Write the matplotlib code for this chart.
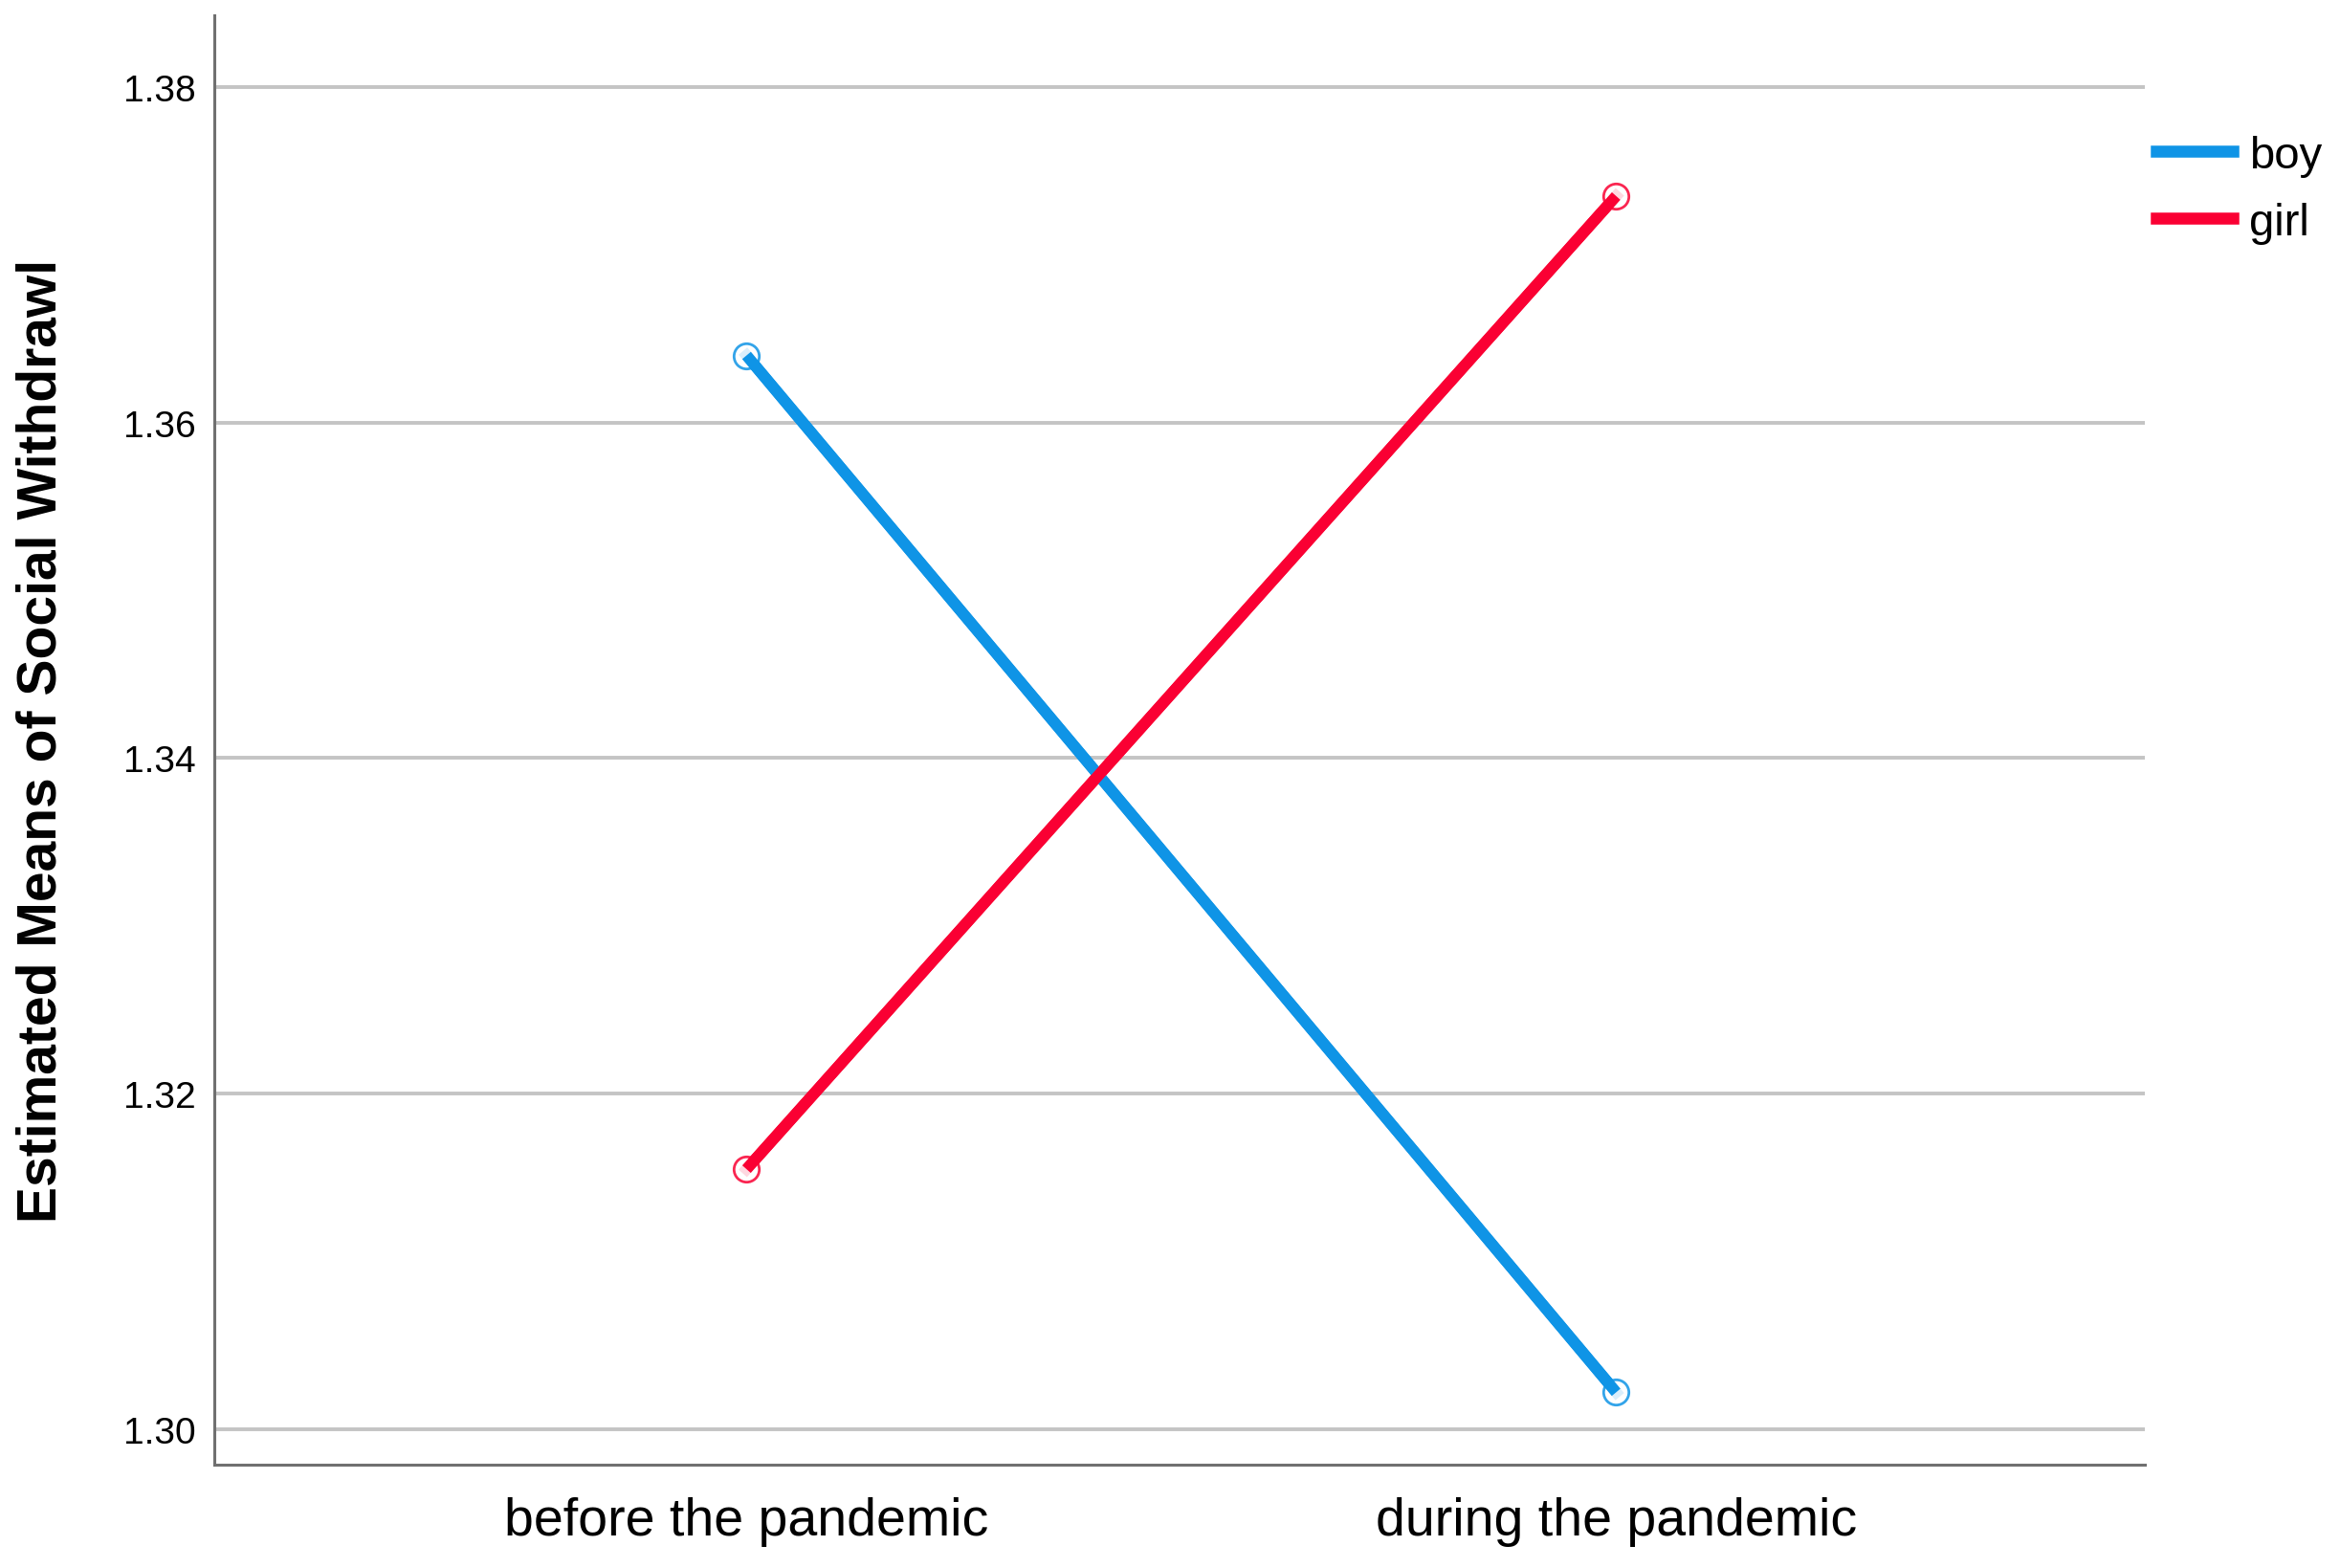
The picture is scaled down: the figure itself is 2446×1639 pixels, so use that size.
import matplotlib
matplotlib.use("Agg")
import matplotlib.pyplot as plt

plt.rcParams['font.family'] = ['Liberation Sans', 'DejaVu Sans']

# estimated marginal means
periods = ['before the pandemic', 'during the pandemic']
boy = [1.3640, 1.3022]
girl = [1.3155, 1.3735]
yticks = [1.30, 1.32, 1.34, 1.36, 1.38]

blue = '#0F94E6'
red = '#FA0033'

fig = plt.figure(figsize=(24.46, 16.4), dpi=100)
ax = fig.add_axes([0.0916, 0.0659, 0.825, 0.9237])

x = list(range(len(periods)))
ax.plot(x, boy, color=blue, lw=8.5, label='boy', zorder=3)
ax.plot(x, girl, color=red, lw=8.5, label='girl', zorder=3)
# open circle markers at the means
ax.plot(x, boy, 'o', ms=19, mfc='white', mec=blue, mew=2, alpha=0.85, zorder=4)
ax.plot(x, girl, 'o', ms=19, mfc='white', mec=red, mew=2, alpha=0.85, zorder=4)
ax.plot(x, boy, color=blue, lw=8.5, zorder=5, solid_capstyle='butt')
ax.plot(x, girl, color=red, lw=8.5, zorder=5, solid_capstyle='butt')

ax.set_xlim(-0.612, 1.608)
ax.set_ylim(1.29789, 1.38427)
ax.set_xticks(x)
ax.set_xticklabels(periods, fontsize=40)
ax.set_yticks(yticks)
ax.set_yticklabels(['%.2f' % v for v in yticks], fontsize=28)
ax.tick_params(axis='both', length=0)
ax.tick_params(axis='y', pad=14)
ax.tick_params(axis='x', pad=24)

ax.grid(axis='y', color='#C4C4C4', lw=2.8)
ax.set_axisbelow(True)
for s in ['top', 'right']:
    ax.spines[s].set_visible(False)
for s in ['left', 'bottom']:
    ax.spines[s].set_color('#707070')
    ax.spines[s].set_linewidth(2.2)

fig.text(44 / 2446, 0.5277, 'Estimated Means of Social Withdrawl', rotation=90,
         fontsize=41, fontweight='bold', ha='center', va='center')

leg = fig.legend(handles=ax.lines[:2], loc='upper left',
                 bbox_to_anchor=(2254 / 2446, 1 - 142 / 1640),
                 frameon=False, fontsize=34, handlelength=1.7,
                 handletextpad=0.36, labelspacing=0.55, borderpad=0,
                 borderaxespad=0)
for h in leg.legend_handles:
    h.set_linewidth(9)

fig.savefig('out.png', dpi=100)
